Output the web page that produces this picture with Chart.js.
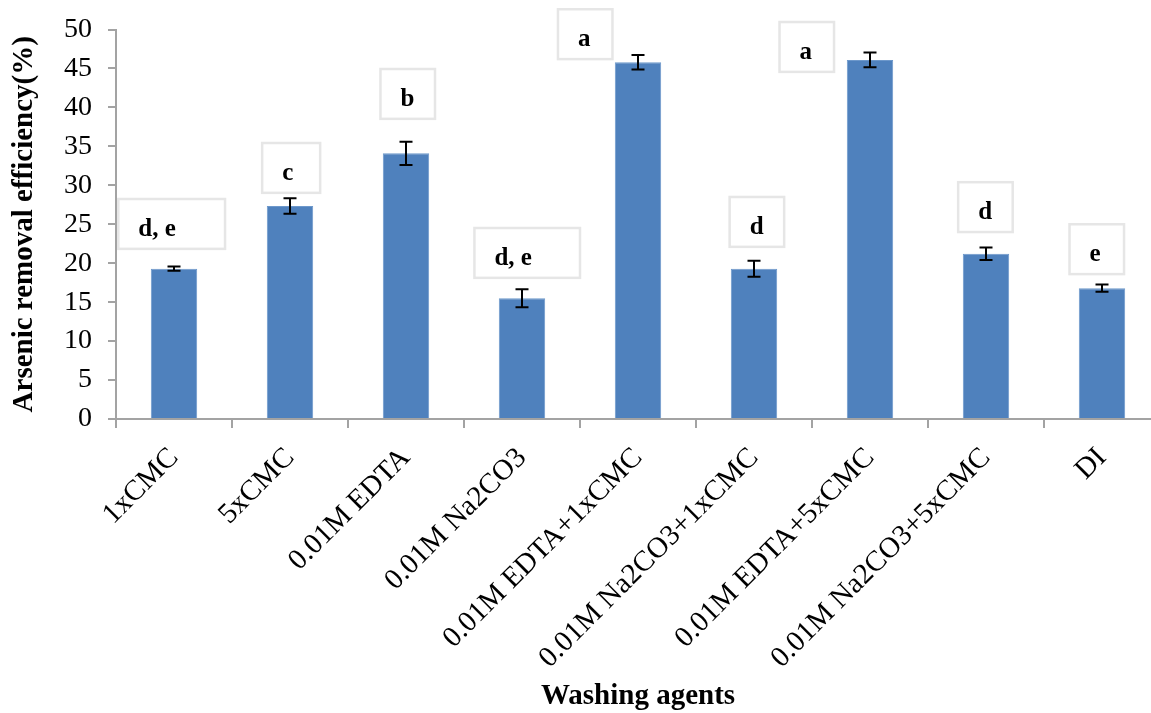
<!DOCTYPE html>
<html>
<head>
<meta charset="utf-8">
<script src="https://cdn.jsdelivr.net/npm/chart.js@4.4.1/dist/chart.umd.min.js"></script>
<style>
  html, body { margin: 0; padding: 0; background: #ffffff; overflow: hidden; }
  #wrap { position: absolute; left: 0; top: 0; width: 1160px; height: 716px; }
</style>
</head>
<body>
<div id="wrap"><canvas id="chart" width="1160" height="716"></canvas></div>
<script>
// Washing agents tested and their arsenic removal efficiency (%)
const agents = [
  '1xCMC', '5xCMC', '0.01M EDTA', '0.01M Na2CO3', '0.01M EDTA+1xCMC',
  '0.01M Na2CO3+1xCMC', '0.01M EDTA+5xCMC', '0.01M Na2CO3+5xCMC', 'DI'
];
const efficiency = [19.3, 27.35, 34.1, 15.5, 45.8, 19.3, 46.1, 21.2, 16.8];
const stdError   = [0.28, 1.0, 1.5, 1.16, 0.92, 1.03, 0.95, 0.8, 0.47];

// Significance groups shown above the bars
const groupLetters = ['d, e', 'c', 'b', 'd, e', 'a', 'd', 'a', 'd', 'e'];

// Y axis range and step
const yMin = 0;
const yMax = 50;
const yStep = 5;

// Letter box placement: left edge offset from category centre and width
// (both in category widths), top edge in axis units
const letterBoxLeft  = [-0.48, -0.24, -0.22, -0.41, -0.69, -0.21, -0.78, -0.24, -0.28];
const letterBoxWidth = [0.92, 0.50, 0.47, 0.91, 0.47, 0.47, 0.47, 0.47, 0.47];
const letterBoxTop   = [28.24, 35.43, 44.93, 24.52, 52.6, 28.5, 50.96, 30.4, 25.0];
const letterBoxHeight = 6.4;

const SERIF = '"Liberation Serif", "Times New Roman", serif';
const AXIS_GRAY = '#a3a3a3';

const errorBars = {
  id: 'errorBars',
  afterDatasetsDraw(chart) {
    const { ctx } = chart;
    const y = chart.scales.y;
    const meta = chart.getDatasetMeta(0);
    ctx.save();
    ctx.strokeStyle = '#000000';
    ctx.lineWidth = 2;
    meta.data.forEach((bar, i) => {
      const x = bar.x;
      const hi = y.getPixelForValue(efficiency[i] + stdError[i]);
      const lo = y.getPixelForValue(efficiency[i] - stdError[i]);
      const cap = 6.5;
      ctx.beginPath();
      ctx.moveTo(x, hi); ctx.lineTo(x, lo);
      ctx.moveTo(x - cap, hi); ctx.lineTo(x + cap, hi);
      ctx.moveTo(x - cap, lo); ctx.lineTo(x + cap, lo);
      ctx.stroke();
    });
    ctx.restore();
  }
};

const letterBoxes = {
  id: 'letterBoxes',
  afterDraw(chart) {
    const { ctx } = chart;
    const xs = chart.scales.x;
    const ys = chart.scales.y;
    const catW = xs.width / agents.length;
    const boxH = ys.getPixelForValue(0) - ys.getPixelForValue(letterBoxHeight);
    ctx.save();
    groupLetters.forEach((txt, i) => {
      const cx = xs.getPixelForValue(i);
      const left = cx + letterBoxLeft[i] * catW;
      const w = letterBoxWidth[i] * catW;
      const top = ys.getPixelForValue(letterBoxTop[i]);
      ctx.fillStyle = '#ffffff';
      ctx.fillRect(left, top, w, boxH);
      ctx.strokeStyle = '#e6e6e6';
      ctx.lineWidth = 2.5;
      ctx.strokeRect(left, top, w, boxH);
      ctx.fillStyle = '#000000';
      ctx.font = 'bold 25px ' + SERIF;
      ctx.textAlign = 'left';
      ctx.textBaseline = 'alphabetic';
      ctx.fillText(txt, left + 20, top + 37);
    });
    ctx.restore();
  }
};

new Chart(document.getElementById('chart'), {
  type: 'bar',
  data: {
    labels: agents,
    datasets: [{
      data: efficiency,
      backgroundColor: '#4f81bd',
      borderColor: '#6d98cb',
      borderWidth: 1,
      barPercentage: 0.4,
      categoryPercentage: 1.0
    }]
  },
  options: {
    responsive: false,
    devicePixelRatio: 1,
    animation: false,
    layout: { padding: { top: 29.5, left: 0, right: 0, bottom: 0 } },
    plugins: {
      legend: { display: false },
      tooltip: { enabled: false }
    },
    scales: {
      x: {
        offset: true,
        grid: {
          display: true,
          drawOnChartArea: false,
          drawTicks: true,
          tickLength: 9,
          color: AXIS_GRAY,
          lineWidth: 2,
          offset: true
        },
        border: { display: true, color: AXIS_GRAY, width: 2 },
        ticks: {
          autoSkip: false,
          minRotation: 45,
          maxRotation: 45,
          padding: 13,
          color: '#000000',
          font: { family: SERIF, size: 29 }
        },
        title: {
          display: true,
          text: 'Washing agents',
          color: '#000000',
          font: { family: SERIF, size: 29, weight: 'bold' },
          padding: { top: 0, bottom: 2 }
        },
        afterFit(scale) { scale.height = 297; }
      },
      y: {
        min: yMin,
        max: yMax,
        grid: {
          display: true,
          drawOnChartArea: false,
          drawTicks: true,
          tickLength: 8,
          color: AXIS_GRAY,
          lineWidth: 2
        },
        border: { display: true, color: AXIS_GRAY, width: 2 },
        ticks: {
          stepSize: yStep,
          padding: 16,
          color: '#000000',
          font: { family: SERIF, size: 28 }
        },
        title: {
          display: true,
          text: 'Arsenic removal efficiency(%)',
          color: '#000000',
          font: { family: SERIF, size: 29, weight: 'bold' },
          padding: { top: 7, bottom: 0 }
        },
        afterFit(scale) {
          scale.width = 116;
          scale.paddingTop = 0;
          scale.paddingBottom = 0;
        }
      }
    }
  },
  plugins: [errorBars, letterBoxes]
});
</script>
</body>
</html>
